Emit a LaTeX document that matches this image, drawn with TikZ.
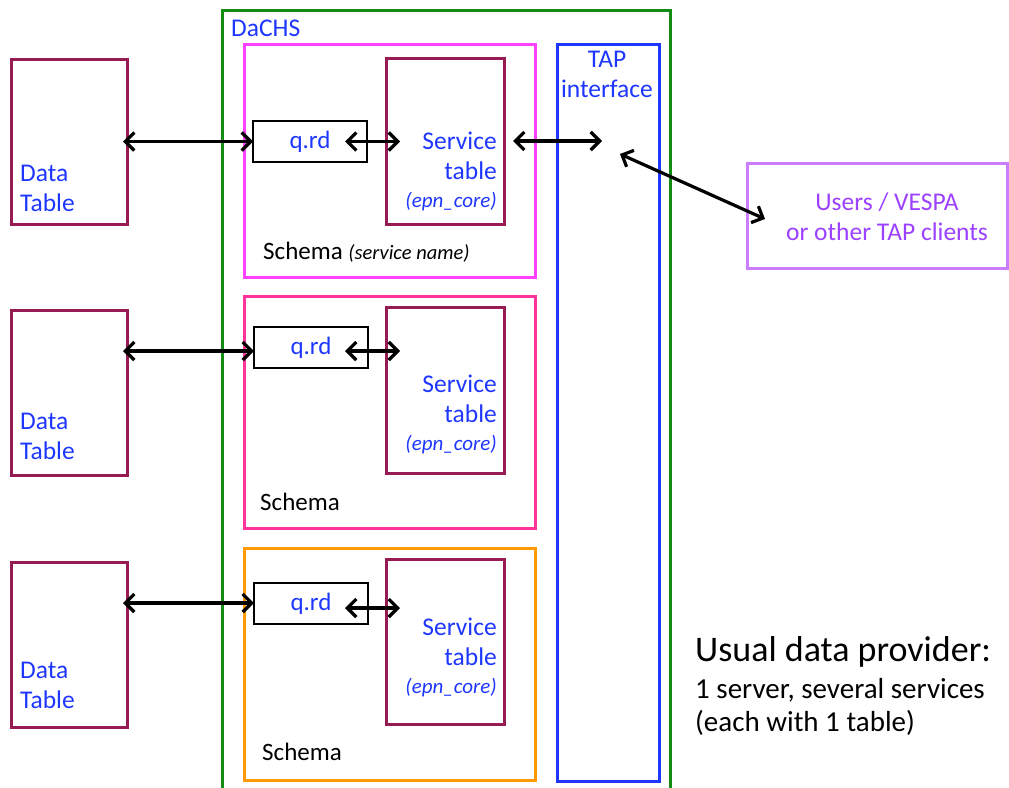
\documentclass[tikz,border=0pt]{standalone}
\usepackage{fontspec}
\setmainfont{Carlito}
\usetikzlibrary{arrows.meta}
\definecolor{maroonc}{RGB}{150,27,82}
\definecolor{greenc}{RGB}{20,140,20}
\definecolor{bluec}{RGB}{30,55,255}
\definecolor{magc}{RGB}{255,64,255}
\definecolor{pinkc}{RGB}{255,51,153}
\definecolor{orangec}{RGB}{255,153,0}
\definecolor{violetbox}{RGB}{204,125,255}
\definecolor{violettext}{RGB}{155,65,255}
\begin{document}
\begin{tikzpicture}[x=1pt,y=-1pt,
  frame/.style={draw, line width=3pt, anchor=north west, inner sep=0pt, outer sep=0pt},
  thinbox/.style={draw, line width=1.1pt, anchor=north west, inner sep=0pt, outer sep=0pt, text=bluec, font=\fontsize{25}{30}\selectfont},
  lbl/.style={inner sep=0pt, text=bluec, font=\fontsize{25.5}{30}\selectfont},
  schemalbl/.style={inner sep=0pt, anchor=base west, font=\fontsize{25}{30}\selectfont},
  arr/.style={line width=3.2pt, {Straight Barb[length=9pt,width=18pt]}-{Straight Barb[length=9pt,width=18pt]}}
]
\useasboundingbox (0,0) rectangle (1009,787);

% DaCHS container
\node[frame, draw=greenc, minimum width=448pt, minimum height=800pt] (dachs) at (222,10) {};
\node[lbl, anchor=north west] (dachslbl) at (231,20) {DaCHS};

% TAP interface
\node[frame, draw=bluec, minimum width=102pt, minimum height=737pt] (tap) at (557,44) {};
\node[lbl, anchor=north, align=center] (taplbl) at (607,51) {TAP\\interface};
\coordinate (tapin) at (602,141);
\coordinate (tapout) at (620,154);

% Users
\node[frame, draw=violetbox, minimum width=260pt, minimum height=105pt] (users) at (747,163) {};
\node[inner sep=0pt, text=violettext, align=center, font=\fontsize{25.5}{30}\selectfont] (userslbl) at (887,217) {Users / VESPA\\or other TAP clients};

% Data tables
\node[frame, draw=maroonc, minimum width=116pt, minimum height=165pt] (dt1) at (11,59) {};
\node[frame, draw=maroonc, minimum width=116pt, minimum height=165pt] (dt2) at (11,310) {};
\node[frame, draw=maroonc, minimum width=116pt, minimum height=165pt] (dt3) at (11,562) {};
\node[lbl, anchor=north west, align=left] (dt1lbl) at (20,165) {Data\\Table};
\node[lbl, anchor=north west, align=left] (dt2lbl) at (20,413) {Data\\Table};
\node[lbl, anchor=north west, align=left] (dt3lbl) at (20,662) {Data\\Table};

% Schemas
\node[frame, draw=magc, minimum width=291pt, minimum height=233pt] (sc1) at (244,44) {};
\node[frame, draw=pinkc, minimum width=291pt, minimum height=232pt] (sc2) at (244,296) {};
\node[frame, draw=orangec, minimum width=291pt, minimum height=232pt] (sc3) at (244,548) {};
\node[schemalbl] (sc1lbl) at (263,259) {Schema {\fontsize{20.5}{24}\itshape (service name)}};
\node[schemalbl] (sc2lbl) at (260,510) {Schema};
\node[schemalbl] (sc3lbl) at (262,760) {Schema};

% q.rd boxes
\node[thinbox, minimum width=114pt, minimum height=41pt] (qrd1) at (253,121) {q.rd};
\node[thinbox, minimum width=114pt, minimum height=41pt] (qrd2) at (254,327) {q.rd};
\node[thinbox, minimum width=114pt, minimum height=41pt] (qrd3) at (254,583) {q.rd};

% Service tables
\node[frame, draw=maroonc, minimum width=118pt, minimum height=166pt] (st1) at (386,58) {};
\node[frame, draw=maroonc, minimum width=118pt, minimum height=166pt] (st2) at (386,307) {};
\node[frame, draw=maroonc, minimum width=118pt, minimum height=165pt] (st3) at (386,559) {};
\node[lbl, anchor=north east, align=right] (st1lbl) at (497,132) {Service\\table\\[-2pt]{\fontsize{21}{24}\itshape (epn\_core)}};
\node[lbl, anchor=north east, align=right] (st2lbl) at (497,375) {Service\\table\\[-2pt]{\fontsize{21}{24}\itshape (epn\_core)}};
\node[lbl, anchor=north east, align=right] (st3lbl) at (497,618) {Service\\table\\[-2pt]{\fontsize{21}{24}\itshape (epn\_core)}};

% Note
\node[inner sep=0pt, anchor=base west, font=\fontsize{36}{40}\selectfont] (note1) at (695,661) {Usual data provider:};
\node[inner sep=0pt, anchor=north west, align=left, font=\fontsize{29}{33}\selectfont] (note2) at (695,678) {1 server, several services\\(each with 1 table)};

% Arrows
\draw[arr] ([xshift=-4pt]dt1.east |- qrd1.west) -- (qrd1.west);
\draw[arr] ([xshift=-4pt]dt2.east |- 0,351) -- (qrd2.west |- 0,351);
\draw[arr] ([xshift=-4pt]dt3.east |- 0,603) -- (qrd3.west |- 0,603);
\draw[arr] ([xshift=-22pt]qrd1.east) -- ([xshift=14pt]st1.west |- qrd1.east);
\draw[arr] ([xshift=-23pt]qrd2.east |- 0,351) -- ([xshift=14pt]st2.west |- 0,351);
\draw[arr] ([xshift=-23pt]qrd3.east |- 0,608) -- ([xshift=14pt]st3.west |- 0,608);
\draw[arr] ([xshift=9pt]st1.east |- tapin) -- (tapin);
\draw[arr] (tapout) -- ([xshift=18pt,yshift=-3.5pt]users.west);
\end{tikzpicture}
\end{document}
